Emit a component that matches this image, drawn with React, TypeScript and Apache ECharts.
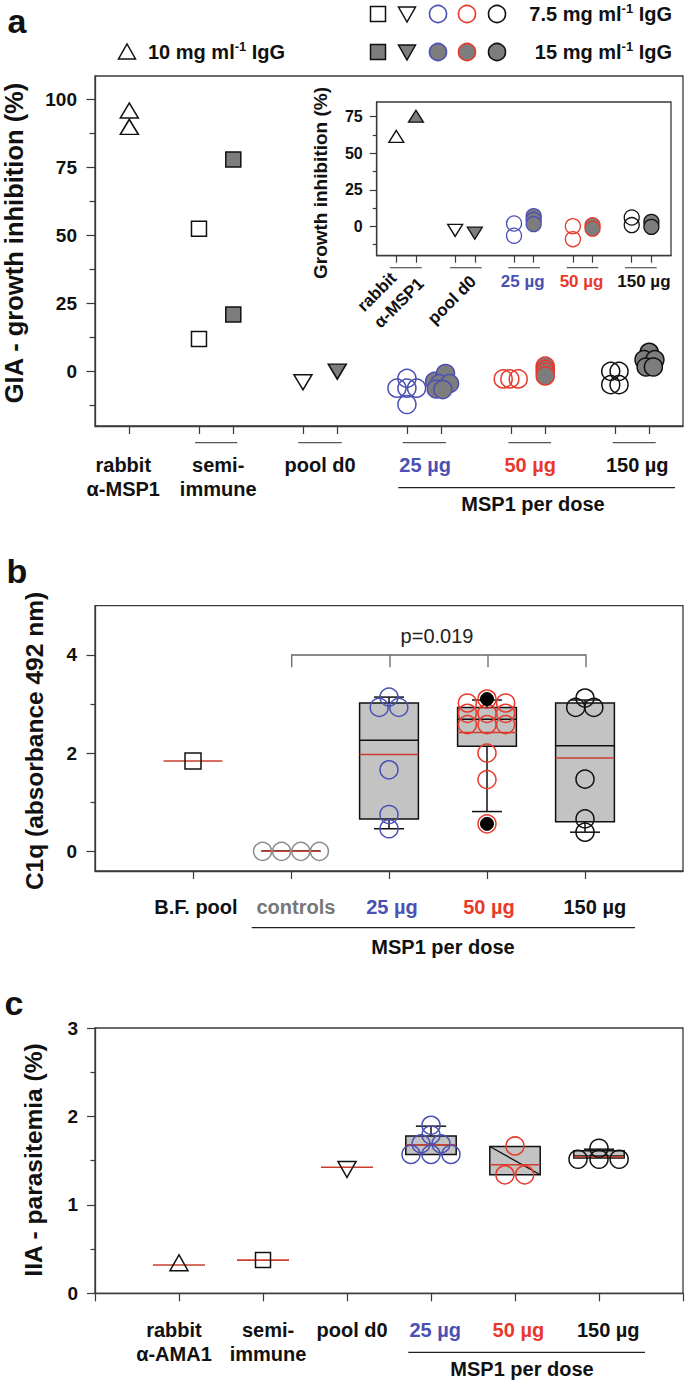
import React, { useEffect, useRef } from 'react';
import * as echarts from 'echarts';

const FONT = '"Liberation Sans", Arial, Helvetica, sans-serif';
const INK = '#111111';
const AXIS = '#3a3a3a';
const BLUE = '#4b50b4';
const RED = '#e8392b';
const MEAN_RED = '#cc3e2e';
const FILL_GRAY = '#7d7d7d';
const BOX_GRAY = '#c3c3c3';
const CTRL_GRAY = '#8c8c8c';
const CLEAR = 'rgba(255,255,255,0)';

// ---------------- Panel a: GIA (main plot) ----------------
const A_TICKS = [0.165, 0.835, 1.165, 1.835, 2.165, 2.835, 3.165, 3.835, 4.165, 4.835, 5.165];
const A_LABEL_AT = [0.107, 1.02, 2.0, 3.01, 4.02, 5.05];
const A_LABELS = ['rabbit\nα-MSP1', 'semi-\nimmune', 'pool d0', '25 µg', '50 µg', '150 µg'];
const A_LABEL_TONES = ['k', 'k', 'k', 'b', 'r', 'k'];
const A_Y_MAJOR = [0, 25, 50, 75, 100];
const A_Y_MINOR = [-12.5, 12.5, 37.5, 62.5, 87.5];

const A_RABBIT_10 = [[0.165, 96], [0.165, 90]];
const A_SEMI_75 = [[0.835, 52.5], [0.835, 12]];
const A_SEMI_15 = [[1.165, 78], [1.165, 21]];
const A_POOL_75 = [[1.835, -3.9]];
const A_POOL_15 = [[2.165, 0]];
const A_25_75 = [[2.739, -6.1], [2.835, -2.5], [2.835, -6.1], [2.928, -6.1], [2.835, -12.1]];
const A_25_15 = [[3.101, -3.6], [3.206, -0.7], [3.149, -4.4], [3.245, -4.4], [3.117, -6.4], [3.18, -6.6]];
const A_50_75 = [[3.761, -2.7], [3.825, -2.7], [3.905, -2.7]];
const A_50_15 = [[4.165, 2.0], [4.165, 0.8], [4.165, -0.3], [4.165, -1.6]];
const A_150_75 = [[4.795, 0.1], [4.875, 0.1], [4.795, -4.8], [4.875, -4.8]];
const A_150_15 = [[5.165, 7.1], [5.115, 4.4], [5.22, 4.4], [5.135, 1.7], [5.205, 1.7]];

// ---------------- Panel a: inset ----------------
const I_TICKS = [-0.167, 0.167, 0.833, 1.167, 1.833, 2.167, 2.833, 3.167, 3.833, 4.167];
const I_LABEL_AT = [1.98, 2.98, 4.04];
const I_LABELS = ['25 µg', '50 µg', '150 µg'];
const I_LABEL_TONES = ['b', 'r', 'k'];
const I_Y_MAJOR = [0, 25, 50, 75];
const I_Y_MINOR = [-12.5, 12.5, 37.5, 62.5];

const I_RABBIT_75 = [[-0.167, 61.5]];
const I_RABBIT_15 = [[0.167, 75.3]];
const I_POOL_75 = [[0.833, -2.7]];
const I_POOL_15 = [[1.167, -4.6]];
const I_25_75 = [[1.833, 2.0], [1.833, -6.4]];
const I_25_15 = [[2.167, 7.0], [2.167, 4.5], [2.167, 1.6]];
const I_50_75 = [[2.833, 0.2], [2.833, -8.7]];
const I_50_15 = [[3.167, 0.8], [3.167, -1.5]];
const I_150_75 = [[3.833, 6.1], [3.833, 0.9]];
const I_150_15 = [[4.167, 3.1], [4.167, -0.3]];

// ---------------- Panel b: C1q ----------------
const B_TICKS = [0, 1, 2, 3, 4];
const B_LABEL_AT = [0.03, 1.05, 2.03, 3.02, 4.1];
const B_LABELS = ['B.F. pool', 'controls', '25 µg', '50 µg', '150 µg'];
const B_LABEL_TONES = ['k', 'g', 'b', 'r', 'k'];
const B_Y_MAJOR = [0, 2, 4];
const B_Y_MINOR = [1, 3];
// [x, lowWhisker, q1, median, q3, highWhisker, mean]
const B_BOXES = [
  [1, 0, 0, 0, 0, 0, 0],
  [2, 0.46, 0.66, 2.26, 3.02, 3.14, 1.97],
  [3, 0.81, 2.14, 2.69, 2.93, 3.08, 2.42],
  [4, 0.39, 0.6, 2.15, 3.02, 3.08, 1.9],
];
const B_MEAN_ONLY = [[0, 1.84]];
const B_BF_POOL = [[0, 1.84]];
const B_CONTROLS = [[0.71, 0], [0.904, 0], [1.1, 0], [1.29, 0]];
const B_25 = [[2, 3.14], [1.9, 2.93], [2.1, 2.93], [2, 1.66], [2, 0.75], [2, 0.46]];
const B_50 = [
  [2.8, 3.02], [3, 3.1], [3.19, 3.02],
  [2.8, 2.81], [3, 2.81], [3.19, 2.81],
  [2.8, 2.58], [3, 2.58], [3.19, 2.58],
  [3, 2.0], [3, 1.46], [3, 0.56],
];
const B_50_OUTLIERS = [[3, 3.1], [3, 0.56]];
const B_150 = [[4, 3.12], [3.905, 2.93], [4.09, 2.93], [4, 1.47], [4, 0.66], [4, 0.39]];

// ---------------- Panel c: IIA ----------------
const C_TICKS = [-1, 0, 1, 2, 3, 4, 5, 6];
const C_LABEL_AT = [-0.06, 1.06, 2.06, 3.05, 4.04, 5.11];
const C_LABELS = ['rabbit\nα-AMA1', 'semi-\nimmune', 'pool d0', '25 µg', '50 µg', '150 µg'];
const C_LABEL_TONES = ['k', 'k', 'k', 'b', 'r', 'k'];
const C_Y_MAJOR = [0, 1, 2, 3];
const C_Y_MINOR = [0.5, 1.5, 2.5];
const C_BOXES = [
  [3, 1.57, 1.57, 1.68, 1.78, 1.89, 1.68],
  [4, 1.34, 1.34, 1.34, 1.66, 1.66, 1.455],
  [5, 1.53, 1.53, 1.553, 1.613, 1.63, 1.545],
];
const C_SKEWED_MEDIAN = [4];
const C_MEAN_ONLY = [[0, 0.32], [1, 0.375], [2, 1.425]];
const C_RABBIT = [[0, 0.345]];
const C_SEMI = [[1, 0.377]];
const C_POOL = [[2, 1.4]];
const C_25 = [[3, 1.9], [3, 1.79], [2.881, 1.69], [3.119, 1.69], [2.762, 1.57], [3, 1.57], [3.238, 1.57]];
const C_50 = [[4, 1.666], [3.88, 1.34], [4.115, 1.34]];
const C_150 = [[5, 1.64], [4.75, 1.516], [5, 1.516], [5.24, 1.516]];

// ---------------- helpers ----------------
function richSet(fs: number, lh: number) {
  const base = { fontSize: fs, fontWeight: 'bold', fontFamily: FONT, lineHeight: lh };
  return {
    k: { ...base, color: INK },
    b: { ...base, color: BLUE },
    r: { ...base, color: RED },
    g: { ...base, color: '#777777' },
  };
}

function xAx(grid: number, min: number, max: number, ticks: number[], labelAt: number[], labels: string[], tones: string[], margin: number, fs: number, lh: number, tickLen: number) {
  return {
    type: 'value', gridIndex: grid, min, max, position: 'bottom',
    axisLine: { show: true, onZero: false, lineStyle: { color: AXIS, width: 1.3 } },
    axisTick: { show: true, customValues: ticks, length: tickLen, lineStyle: { color: AXIS, width: 1.2 } },
    axisLabel: {
      show: labelAt.length > 0,
      customValues: labelAt,
      margin,
      formatter: (v: number) => {
        let idx = 0;
        let best = Infinity;
        labelAt.forEach((p, j) => {
          const d = Math.abs(p - v);
          if (d < best) { best = d; idx = j; }
        });
        return labels[idx].split('\n').map((s) => `{${tones[idx]}|${s}}`).join('\n');
      },
      rich: richSet(fs, lh),
    },
    splitLine: { show: false },
  };
}

function yAx(grid: number, min: number, max: number, ticks: number[], withLabels: boolean, tickLen: number, fs: number, margin: number) {
  return {
    type: 'value', gridIndex: grid, min, max, position: 'left',
    axisLine: { show: withLabels, onZero: false, lineStyle: { color: AXIS, width: 1.3 } },
    axisTick: { show: true, customValues: ticks, length: tickLen, lineStyle: { color: AXIS, width: 1.2 } },
    axisLabel: withLabels
      ? { show: true, customValues: ticks, margin, fontSize: fs, fontWeight: 'bold', color: INK, fontFamily: FONT }
      : { show: false },
    splitLine: { show: false },
  };
}

function sc(data: number[][], xi: number, yi: number, symbol: string, size: any, fill: string, stroke: string, rotate = 0, lw = 1.5, z = 3) {
  return {
    type: 'scatter', xAxisIndex: xi, yAxisIndex: yi, data, symbol, symbolSize: size, symbolRotate: rotate,
    itemStyle: { color: fill, borderColor: stroke, borderWidth: lw, opacity: 1 },
    z, silent: true, emphasis: { disabled: true },
  };
}

function boxSeries(data: number[][], xi: number, yi: number, hw: number, cw: number, skewed: number[]) {
  return {
    type: 'custom', xAxisIndex: xi, yAxisIndex: yi, data, z: 1, silent: true,
    encode: { x: 0, y: [1, 2, 3, 4, 5] },
    renderItem: (params: any, api: any) => {
      const x = api.value(0);
      const lo = api.value(1);
      const q1 = api.value(2);
      const med = api.value(3);
      const q3 = api.value(4);
      const hi = api.value(5);
      const mean = api.value(6);
      const P = (a: number, b: number) => api.coord([a, b]);
      const ln = (a: number[], b: number[], stroke: string, w: number) => ({
        type: 'line', shape: { x1: a[0], y1: a[1], x2: b[0], y2: b[1] }, style: { stroke, lineWidth: w },
      });
      const children: any[] = [];
      if (hi > q3) {
        children.push(ln(P(x, q3), P(x, hi), '#111', 1.5));
        children.push(ln(P(x - cw, hi), P(x + cw, hi), '#111', 1.5));
      }
      if (lo < q1) {
        children.push(ln(P(x, q1), P(x, lo), '#111', 1.5));
        children.push(ln(P(x - cw, lo), P(x + cw, lo), '#111', 1.5));
      }
      const tl = P(x - hw, q3);
      const br = P(x + hw, q1);
      children.push({
        type: 'rect',
        shape: { x: tl[0], y: tl[1], width: br[0] - tl[0], height: br[1] - tl[1] },
        style: { fill: BOX_GRAY, stroke: '#111', lineWidth: 1.5 },
      });
      if (skewed.indexOf(x) >= 0) {
        children.push(ln(P(x - hw, q3), P(x + hw, med), '#111', 1.3));
      } else {
        children.push(ln(P(x - hw, med), P(x + hw, med), '#111', 1.5));
      }
      children.push(ln(P(x - hw, mean), P(x + hw, mean), MEAN_RED, 1.5));
      return { type: 'group', children };
    },
  };
}

function meanSeries(data: number[][], xi: number, yi: number, hw: number) {
  return {
    type: 'custom', xAxisIndex: xi, yAxisIndex: yi, data, z: 1, silent: true,
    encode: { x: 0, y: 1 },
    renderItem: (params: any, api: any) => {
      const x = api.value(0);
      const m = api.value(1);
      const a = api.coord([x - hw, m]);
      const b = api.coord([x + hw, m]);
      return { type: 'line', shape: { x1: a[0], y1: a[1], x2: b[0], y2: b[1] }, style: { stroke: MEAN_RED, lineWidth: 1.6 } };
    },
  };
}

const T = (text: string, x: number, y: number, o: any = {}) => ({
  type: 'text', x, y, rotation: o.rot || 0, z: 50, silent: true,
  style: {
    text, fill: o.color || INK, fontSize: o.size || 20, fontWeight: o.weight || 'bold', fontFamily: FONT,
    align: o.align || 'center', verticalAlign: 'middle', rich: o.rich,
  },
});
const L = (x1: number, y1: number, x2: number, y2: number, color = '#444', w = 1.2) => ({
  type: 'line', z: 50, silent: true, shape: { x1, y1, x2, y2 }, style: { stroke: color, lineWidth: w },
});
const sq = (cx: number, cy: number, fill: string) => ({
  type: 'rect', z: 50, silent: true, shape: { x: cx - 7.5, y: cy - 7.5, width: 15, height: 15 }, style: { fill, stroke: INK, lineWidth: 1.5 },
});
const tri = (cx: number, cy: number, down: boolean, fill: string) => ({
  type: 'polygon', z: 50, silent: true,
  shape: { points: down ? [[cx - 8.5, cy - 7], [cx + 8.5, cy - 7], [cx, cy + 8]] : [[cx - 8.5, cy + 7], [cx + 8.5, cy + 7], [cx, cy - 8]] },
  style: { fill, stroke: INK, lineWidth: 1.5 },
});
const circ = (cx: number, cy: number, fill: string, stroke: string) => ({
  type: 'circle', z: 50, silent: true, shape: { cx, cy, r: 8.5 }, style: { fill, stroke, lineWidth: 1.6 },
});
const legendRich = {
  n: { fontSize: 20, fontWeight: 'bold', fontFamily: FONT, fill: INK, lineHeight: 24 },
  s: { fontSize: 13, fontWeight: 'bold', fontFamily: FONT, fill: INK, verticalAlign: 'top' },
};

function buildOption() {
  const R90 = Math.PI / 2;
  const R45 = Math.PI / 4;
  const graphic: any[] = [
    T('a', 17, 21, { size: 34 }),
    T('b', 17, 571, { size: 34 }),
    T('c', 14, 1003, { size: 34 }),
    // legend
    sq(378, 14, '#ffffff'), tri(407, 14, true, '#ffffff'),
    circ(438, 14, '#ffffff', BLUE), circ(467, 14, '#ffffff', RED), circ(497, 14, '#ffffff', INK),
    T('{n|7.5 mg ml}{s|-1}{n| IgG}', 672, 14, { align: 'right', rich: legendRich }),
    tri(127, 52, false, '#ffffff'),
    T('{n|10 mg ml}{s|-1}{n| IgG}', 148, 52, { align: 'left', rich: legendRich }),
    sq(378, 52, FILL_GRAY), tri(407, 52, true, FILL_GRAY),
    circ(438, 52, FILL_GRAY, BLUE), circ(467, 52, FILL_GRAY, RED), circ(497, 52, FILL_GRAY, INK),
    T('{n|15 mg ml}{s|-1}{n| IgG}', 672, 52, { align: 'right', rich: legendRich }),
    // axis titles
    T('GIA - growth inhibition (%)', 14, 243, { size: 25.5, rot: R90 }),
    T('Growth inhibition (%)', 320, 183, { size: 19, rot: R90 }),
    T('C1q (absorbance 492 nm)', 34, 741, { size: 24.5, rot: R90 }),
    T('IIA - parasitemia (%)', 33, 1160, { size: 24.5, rot: R90 }),
    // panel a pair underlines
    L(195, 442.7, 237.3, 442.7, '#555'), L(298.3, 442.7, 341.7, 442.7, '#555'),
    L(402.7, 442.7, 446, 442.7, '#555'), L(508.3, 442.7, 551, 442.7, '#555'), L(612.7, 442.7, 655.7, 442.7, '#555'),
    L(398.3, 487.7, 675, 487.7, '#222'),
    T('MSP1 per dose', 533, 504, { size: 20 }),
    // inset underlines and rotated labels
    L(390, 267.7, 421.7, 267.7, '#555'), L(450, 267.7, 481.7, 267.7, '#555'),
    L(508.3, 267.7, 540, 267.7, '#555'), L(566.7, 267.7, 598.3, 267.7, '#555'), L(625, 267.7, 656.7, 267.7, '#555'),
    T('rabbit', 377, 292, { size: 17, rot: R45 }),
    T('α-MSP1', 399, 303, { size: 17, rot: R45 }),
    T('pool d0', 452, 300, { size: 17, rot: R45 }),
    // panel b bracket
    { type: 'polyline', z: 50, silent: true, shape: { points: [[291.7, 667.3], [291.7, 655], [586, 655], [586, 667.3]] }, style: { stroke: '#666', lineWidth: 1.3, fill: 'none' } },
    L(390, 655, 390, 667.3, '#666', 1.3), L(488, 655, 488, 667.3, '#666', 1.3),
    T('p=0.019', 437, 636, { size: 20, weight: 'normal', color: '#222' }),
    L(251.7, 927.7, 635, 927.7, '#222'),
    T('MSP1 per dose', 443, 947, { size: 20 }),
    // panel c
    L(408.3, 1352.3, 645, 1352.3, '#222'),
    T('MSP1 per dose', 522, 1369, { size: 20 }),
  ];

  const grid = [
    { left: 95, top: 76, width: 588, height: 350, show: true, borderColor: AXIS, borderWidth: 1.3, backgroundColor: 'transparent' },
    { left: 376.7, top: 102, width: 294.3, height: 153.7, show: true, borderColor: AXIS, borderWidth: 1.3, backgroundColor: '#ffffff' },
    { left: 95, top: 605.7, width: 588, height: 265.3, show: true, borderColor: AXIS, borderWidth: 1.3, backgroundColor: 'transparent' },
    { left: 95, top: 1028, width: 588, height: 265.3, show: true, borderColor: AXIS, borderWidth: 1.3, backgroundColor: 'transparent' },
  ];

  const xAxis = [
    xAx(0, -0.165, 5.49, A_TICKS, A_LABEL_AT, A_LABELS, A_LABEL_TONES, 27, 20, 24, 8),
    xAx(1, -0.5, 4.5, I_TICKS, I_LABEL_AT, I_LABELS, I_LABEL_TONES, 16, 17, 20, 7),
    xAx(2, -1, 5, B_TICKS, B_LABEL_AT, B_LABELS, B_LABEL_TONES, 24, 20, 24, 8),
    xAx(3, -1, 6, C_TICKS, C_LABEL_AT, C_LABELS, C_LABEL_TONES, 25, 20, 24, 8),
  ];

  const yAxis = [
    yAx(0, -20, 108.7, A_Y_MAJOR, true, 8.5, 19, 18),
    yAx(0, -20, 108.7, A_Y_MINOR, false, 5.5, 19, 18),
    yAx(1, -20, 85, I_Y_MAJOR, true, 7, 16, 14),
    yAx(1, -20, 85, I_Y_MINOR, false, 4, 16, 14),
    yAx(2, -0.4, 5, B_Y_MAJOR, true, 8.5, 19, 18),
    yAx(2, -0.4, 5, B_Y_MINOR, false, 4.5, 19, 18),
    yAx(3, 0, 3, C_Y_MAJOR, true, 8, 19, 17),
    yAx(3, 0, 3, C_Y_MINOR, false, 4.5, 19, 17),
  ];

  const series: any[] = [
    // panel a main
    sc(A_RABBIT_10, 0, 0, 'triangle', [18, 15], CLEAR, INK),
    sc(A_SEMI_75, 0, 0, 'rect', 15, CLEAR, INK),
    sc(A_SEMI_15, 0, 0, 'rect', 15, FILL_GRAY, INK),
    sc(A_POOL_75, 0, 0, 'triangle', [18, 15], CLEAR, INK, 180),
    sc(A_POOL_15, 0, 0, 'triangle', [18, 15], FILL_GRAY, INK, 180),
    sc(A_25_75, 0, 0, 'circle', 18, CLEAR, BLUE),
    sc(A_25_15, 0, 0, 'circle', 18, FILL_GRAY, BLUE),
    sc(A_50_75, 0, 0, 'circle', 18, CLEAR, RED),
    sc(A_50_15, 0, 0, 'circle', 18, FILL_GRAY, RED),
    sc(A_150_75, 0, 0, 'circle', 18, CLEAR, INK),
    sc(A_150_15, 0, 0, 'circle', 18, FILL_GRAY, INK),
    // inset
    sc(I_RABBIT_75, 1, 2, 'triangle', [15, 12], CLEAR, INK, 0, 1.3, 6),
    sc(I_RABBIT_15, 1, 2, 'triangle', [15, 12], FILL_GRAY, INK, 0, 1.3, 6),
    sc(I_POOL_75, 1, 2, 'triangle', [15, 12], CLEAR, INK, 180, 1.3, 6),
    sc(I_POOL_15, 1, 2, 'triangle', [15, 12], FILL_GRAY, INK, 180, 1.3, 6),
    sc(I_25_75, 1, 2, 'circle', 15, CLEAR, BLUE, 0, 1.3, 6),
    sc(I_25_15, 1, 2, 'circle', 15, FILL_GRAY, BLUE, 0, 1.3, 6),
    sc(I_50_75, 1, 2, 'circle', 15, CLEAR, RED, 0, 1.3, 6),
    sc(I_50_15, 1, 2, 'circle', 15, FILL_GRAY, RED, 0, 1.3, 6),
    sc(I_150_75, 1, 2, 'circle', 15, CLEAR, INK, 0, 1.3, 6),
    sc(I_150_15, 1, 2, 'circle', 15, FILL_GRAY, INK, 0, 1.3, 6),
    // panel b
    boxSeries(B_BOXES, 2, 4, 0.3, 0.153, []),
    meanSeries(B_MEAN_ONLY, 2, 4, 0.3),
    sc(B_BF_POOL, 2, 4, 'rect', 16, CLEAR, INK),
    sc(B_CONTROLS, 2, 4, 'circle', 18, CLEAR, CTRL_GRAY),
    sc(B_25, 2, 4, 'circle', 18, CLEAR, BLUE),
    sc(B_50, 2, 4, 'circle', 18, CLEAR, RED),
    sc(B_50_OUTLIERS, 2, 4, 'circle', 13, '#000000', '#000000', 0, 1, 4),
    sc(B_150, 2, 4, 'circle', 18, CLEAR, INK),
    // panel c
    boxSeries(C_BOXES, 3, 6, 0.3, 0.18, C_SKEWED_MEDIAN),
    meanSeries(C_MEAN_ONLY, 3, 6, 0.31),
    sc(C_RABBIT, 3, 6, 'triangle', [18, 16], CLEAR, INK),
    sc(C_SEMI, 3, 6, 'rect', 15, CLEAR, INK),
    sc(C_POOL, 3, 6, 'triangle', [18, 16], CLEAR, INK, 180),
    sc(C_25, 3, 6, 'circle', 18, CLEAR, BLUE),
    sc(C_50, 3, 6, 'circle', 18, CLEAR, RED),
    sc(C_150, 3, 6, 'circle', 18, CLEAR, INK),
  ];

  return {
    animation: false,
    backgroundColor: '#ffffff',
    textStyle: { fontFamily: FONT },
    grid, xAxis, yAxis, series, graphic,
  };
}

export default function App() {
  const ref = useRef<HTMLDivElement>(null);
  useEffect(() => {
    if (!ref.current) return;
    const chart = echarts.init(ref.current, undefined, { renderer: 'svg' });
    chart.setOption(buildOption() as any);
    return () => chart.dispose();
  }, []);
  return (
    <div
      ref={ref}
      style={{ position: 'absolute', left: 0, top: 0, width: 685, height: 1381, background: '#ffffff' }}
    />
  );
}
